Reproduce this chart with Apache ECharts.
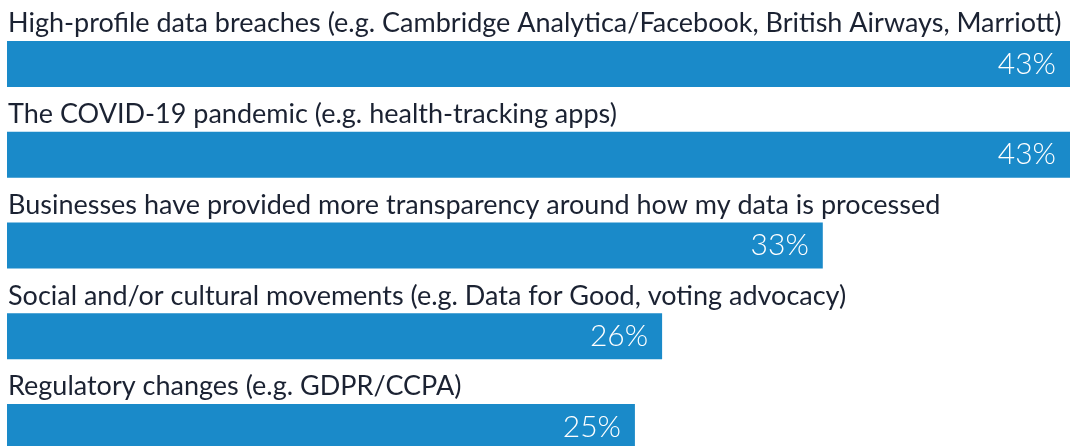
<!DOCTYPE html>
<html lang="en">
<head>
  <meta charset="UTF-8">
  <title>Data privacy drivers</title>
  <script src="https://cdn.jsdelivr.net/npm/echarts@6/dist/echarts.min.js"></script>
  <style>
    html, body { margin: 0; padding: 0; background: #fff; }
    #main { width: 1070px; height: 446px; }
  </style>
</head>
<body>
  <div id="main"></div>
  <script type="text/javascript">
    // categories, top to bottom
    var categories = [
      'High-profile data breaches (e.g. Cambridge Analytica/Facebook, British Airways, Marriott)',
      'The COVID-19 pandemic (e.g. health-tracking apps)',
      'Businesses have provided more transparency around how my data is processed',
      'Social and/or cultural movements (e.g. Data for Good, voting advocacy)',
      'Regulatory changes (e.g. GDPR/CCPA)'
    ];
    // bar lengths
    var values = [43, 43, 33, 26.5, 25.4];
    // the printed labels
    var valueLabels = ['43%', '43%', '33%', '26%', '25%'];

    var myChart = echarts.init(document.getElementById('main'));
    var option = {
      animation: false,
      // last bar runs off the bottom edge, so the grid is taller than the canvas
      grid: { left: 7, right: 0, top: 18.5, height: 454, outerBoundsMode: 'none' },
      xAxis: { type: 'value', min: 0, max: 43, show: false },
      yAxis: {
        type: 'category',
        inverse: true,
        data: categories,
        show: false
      },
      series: [
        {
          type: 'bar',
          data: values,
          barWidth: 46,
          itemStyle: { color: '#1a8ac9' },
          label: {
            show: true,
            position: [1, -4],
            align: 'left',
            verticalAlign: 'bottom',
            formatter: '{b}',
            color: '#1b2232',
            fontFamily: 'Lato',
            fontSize: 27
          }
        },
        {
          type: 'bar',
          data: values,
          barWidth: 46,
          barGap: '-100%',
          itemStyle: { color: 'transparent' },
          label: {
            show: true,
            position: 'insideRight',
            distance: 14,
            formatter: function (p) { return valueLabels[p.dataIndex]; },
            color: '#ffffff',
            fontFamily: 'Lato',
            fontWeight: 300,
            fontSize: 30
          }
        }
      ]
    };
    myChart.setOption(option);
  </script>
</body>
</html>
